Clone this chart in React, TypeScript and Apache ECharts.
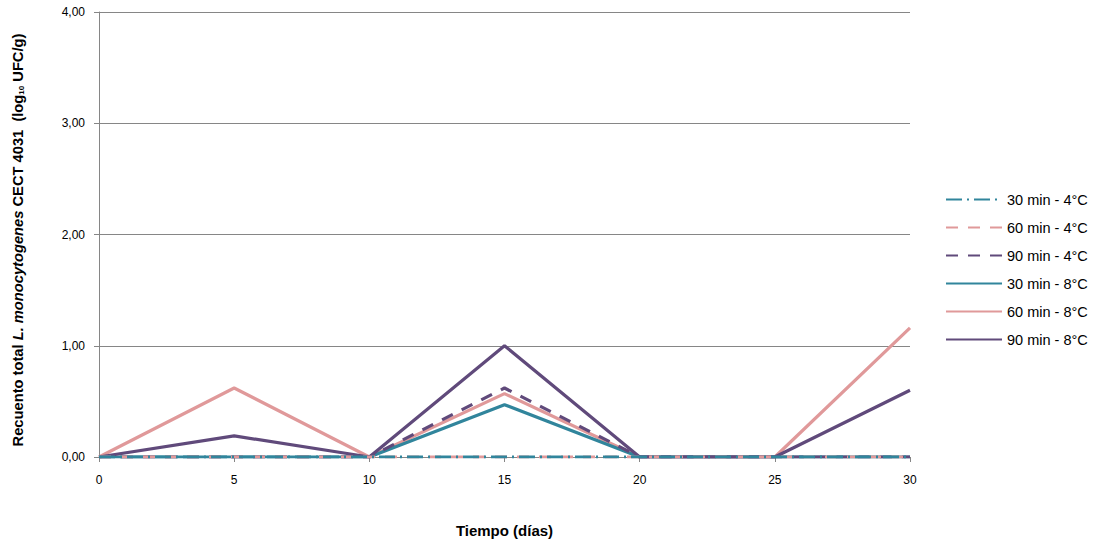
import React, { useEffect, useRef } from "react";
import * as echarts from "echarts";

const days = [0, 5, 10, 15, 20, 25, 30];
const s30_4 = [0, 0, 0, 0, 0, 0, 0];
const s60_4 = [0, 0, 0, 0, 0, 0, 0];
const s90_4 = [0, 0, 0, 0.62, 0, 0, 0];
const s30_8 = [0, 0, 0, 0.47, 0, 0, 0];
const s60_8 = [0, 0.62, 0, 0.57, 0, 0, 1.16];
const s90_8 = [0, 0.19, 0, 1.0, 0, 0, 0.6];

const TEAL = "#31859C";
const PINK = "#E0999A";
const PURPLE = "#604A7B";

export default function App() {
  const ref = useRef<HTMLDivElement>(null);
  useEffect(() => {
    document.body.style.margin = "0";
    if (!ref.current) return;
    const chart = echarts.init(ref.current, undefined, { renderer: "svg" });
    const mk = (name: string, vals: number[], color: string, type: any, z: number) => ({
      name,
      type: "line",
      data: days.map((d, i) => [d, vals[i]]),
      symbol: "none",
      showSymbol: false,
      z,
      lineStyle: { color, width: 3.2, type },
      itemStyle: { color },
    });
    chart.setOption({
      animation: false,
      textStyle: { fontFamily: "Liberation Sans" },
      grid: { left: 99, right: 187, top: 12, bottom: 87, outerBoundsMode: "none", containLabel: false },
      legend: {
        orient: "vertical",
        left: 940,
        top: 187,
        itemWidth: 56,
        itemHeight: 10,
        itemGap: 13,
        itemStyle: { opacity: 0 },
        textStyle: { fontSize: 14.5, color: "#000", fontFamily: "Liberation Sans" },
        data: ["30 min - 4°C", "60 min - 4°C", "90 min - 4°C", "30 min - 8°C", "60 min - 8°C", "90 min - 8°C"],
      },
      xAxis: {
        type: "value",
        min: 0,
        max: 30,
        interval: 5,
        name: "Tiempo (días)",
        nameLocation: "middle",
        nameGap: 66,
        nameTextStyle: { fontWeight: "bold", fontSize: 15, color: "#000" },
        axisLine: { lineStyle: { color: "#868686", width: 1 } },
        axisTick: { show: true, length: 5, lineStyle: { color: "#868686" } },
        axisLabel: { color: "#000", fontSize: 12, margin: 17 },
        splitLine: { show: false },
      },
      yAxis: {
        type: "value",
        min: 0,
        max: 4,
        interval: 1,
        name: "Recuento total {i|L. monocytogenes} CECT 4031  (log{s|10} UFC/g)",
        nameLocation: "middle",
        nameGap: 74,
        nameRotate: 90,
        nameTextStyle: {
          fontWeight: "bold",
          fontSize: 14.7,
          color: "#000",
          padding: [0, 11, 0, 0],
          rich: {
            i: { fontStyle: "italic", fontWeight: "bold", fontSize: 14.7, color: "#000" },
            s: { fontWeight: "bold", fontSize: 8, color: "#000", verticalAlign: "bottom", padding: [7, 0, 0, 0] },
          },
        },
        axisLine: { show: true, lineStyle: { color: "#868686", width: 1 } },
        axisTick: { show: true, length: 5, lineStyle: { color: "#868686" } },
        axisLabel: {
          color: "#000",
          fontSize: 12,
          margin: 14,
          formatter: (v: number) => v.toFixed(2).replace(".", ","),
        },
        splitLine: { show: true, lineStyle: { color: "#868686", width: 1 } },
      },
      series: [
        mk("30 min - 4°C", s30_4, TEAL, [16, 5, 2, 5], 6),
        mk("60 min - 4°C", s60_4, PINK, [12, 10], 5),
        mk("90 min - 4°C", s90_4, PURPLE, [12, 10], 4),
        mk("30 min - 8°C", s30_8, TEAL, "solid", 3),
        mk("60 min - 8°C", s60_8, PINK, "solid", 2),
        mk("90 min - 8°C", s90_8, PURPLE, "solid", 3),
      ],
    });
    return () => chart.dispose();
  }, []);
  return <div ref={ref} style={{ width: 1097, height: 544 }} />;
}
